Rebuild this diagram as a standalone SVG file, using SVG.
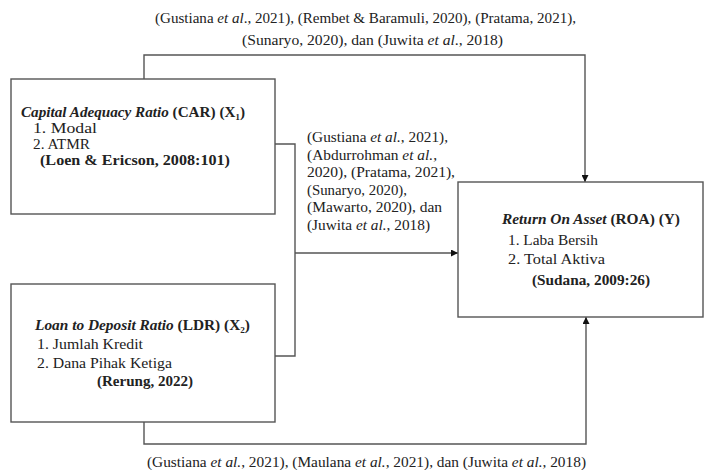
<svg xmlns="http://www.w3.org/2000/svg" width="711" height="470" viewBox="0 0 711 470">
<style>
text{font-family:"Liberation Serif","Times New Roman",serif;font-size:15px;fill:#222}
.m{font-size:14px}
.b{font-weight:bold}
.i{font-style:italic}
.box{fill:#fff;stroke:#555;stroke-width:1.4}
.ln{fill:none;stroke:#555;stroke-width:1.4}
</style>
<defs>
<marker id="ah" viewBox="0 0 10 10" refX="10" refY="5" markerWidth="7" markerHeight="7" markerUnits="userSpaceOnUse" orient="auto">
<path d="M0,0 L10,5 L0,10 z" fill="#111"/>
</marker>
</defs>
<g id="connectors">
<polyline class="ln" points="144,79 144,55 585,55 585,182" marker-end="url(#ah)"/>
<polyline class="ln" points="275,144 295,144 295,356 275,356"/>
<line class="ln" x1="295" y1="253" x2="458" y2="253" marker-end="url(#ah)"/>
<polyline class="ln" points="144,422 144,444 586,444 586,317" marker-end="url(#ah)"/>
</g>
<g id="label-top">
<text x="155" y="23" textLength="421" lengthAdjust="spacingAndGlyphs">(Gustiana <tspan class="i">et al</tspan>., 2021), (Rembet &amp; Baramuli, 2020), (Pratama, 2021),</text>
<text x="242" y="45" textLength="261" lengthAdjust="spacingAndGlyphs">(Sunaryo, 2020), dan (Juwita <tspan class="i">et al</tspan>., 2018)</text>
</g>
<g id="label-mid">
<text class="m" x="307" y="142" textLength="141" lengthAdjust="spacingAndGlyphs">(Gustiana <tspan class="i">et al.</tspan>, 2021),</text>
<text class="m" x="307" y="159.5" textLength="130" lengthAdjust="spacingAndGlyphs">(Abdurrohman <tspan class="i">et al.</tspan>,</text>
<text class="m" x="307" y="177" textLength="148" lengthAdjust="spacingAndGlyphs">2020), (Pratama, 2021),</text>
<text class="m" x="307" y="194.5" textLength="100" lengthAdjust="spacingAndGlyphs">(Sunaryo, 2020),</text>
<text class="m" x="307" y="212" textLength="135" lengthAdjust="spacingAndGlyphs">(Mawarto, 2020), dan</text>
<text class="m" x="307" y="229.5" textLength="123" lengthAdjust="spacingAndGlyphs">(Juwita <tspan class="i">et al.</tspan>, 2018)</text>
</g>
<g id="label-bottom">
<text x="147" y="467" textLength="439" lengthAdjust="spacingAndGlyphs">(Gustiana <tspan class="i">et al.</tspan>, 2021), (Maulana <tspan class="i">et al.</tspan>, 2021), dan (Juwita <tspan class="i">et al.</tspan>, 2018)</text>
</g>
<g id="node-car">
<rect class="box" x="11" y="79" width="264" height="135"/>
<text x="21" y="117" class="b" textLength="224" lengthAdjust="spacingAndGlyphs"><tspan class="i">Capital Adequacy Ratio</tspan> (CAR) (X₁)</text>
<text x="33" y="133" textLength="64" lengthAdjust="spacingAndGlyphs">1. Modal</text>
<text x="33" y="149" textLength="57" lengthAdjust="spacingAndGlyphs">2. ATMR</text>
<text x="40" y="165" class="b" textLength="190" lengthAdjust="spacingAndGlyphs">(Loen &amp; Ericson, 2008:101)</text>
</g>
<g id="node-ldr">
<rect class="box" x="11" y="284" width="264" height="138"/>
<text x="35" y="330" class="b" textLength="215" lengthAdjust="spacingAndGlyphs"><tspan class="i">Loan to Deposit Ratio</tspan> (LDR) (X₂)</text>
<text x="37" y="349" textLength="106" lengthAdjust="spacingAndGlyphs">1. Jumlah Kredit</text>
<text x="37" y="368" textLength="135" lengthAdjust="spacingAndGlyphs">2. Dana Pihak Ketiga</text>
<text x="97" y="386" class="b" textLength="96" lengthAdjust="spacingAndGlyphs">(Rerung, 2022)</text>
</g>
<g id="node-roa">
<rect class="box" x="458" y="182" width="245" height="135"/>
<text x="502" y="224" class="b" textLength="178" lengthAdjust="spacingAndGlyphs"><tspan class="i">Return On Asset</tspan> (ROA) (Y)</text>
<text x="508" y="245" textLength="90" lengthAdjust="spacingAndGlyphs">1. Laba Bersih</text>
<text x="508" y="264" textLength="97" lengthAdjust="spacingAndGlyphs">2. Total Aktiva</text>
<text x="532" y="285" class="b" textLength="118" lengthAdjust="spacingAndGlyphs">(Sudana, 2009:26)</text>
</g>
</svg>
